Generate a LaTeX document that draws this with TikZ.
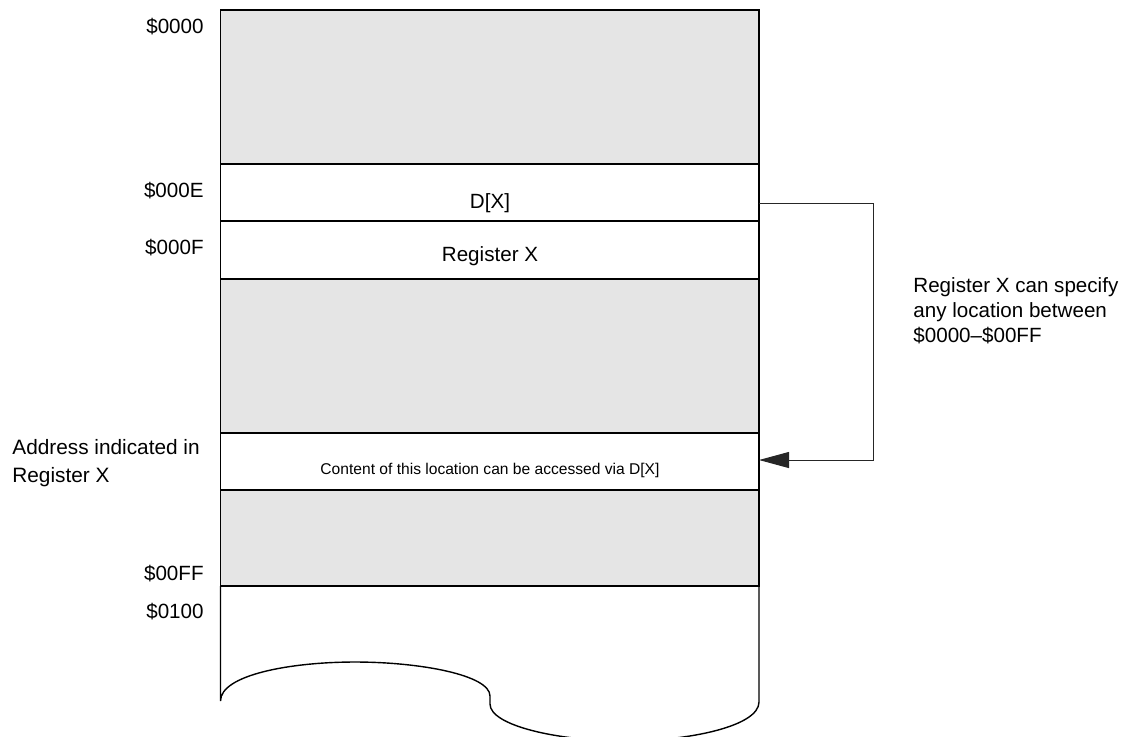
\documentclass[tikz,border=0pt]{standalone}
\usepackage{fontspec}
\setmainfont{Liberation Sans}
\usetikzlibrary{arrows.meta}
\usetikzlibrary{calc}

\tikzset{
  memrow/.style={draw=black,line width=0.7pt},
  usedrow/.style={memrow,fill=gray!20},
  freerow/.style={memrow,fill=white},
  addr/.style={anchor=mid east,inner sep=0pt,font=\fontsize{10.3}{12.5}\selectfont},
  cell/.style={anchor=mid,inner sep=0pt,font=\fontsize{10.3}{12.5}\selectfont},
  note/.style={anchor=north west,align=left,inner sep=0pt},
  link/.style={draw=black!85,line width=0.5pt,-{Triangle[length=15pt,width=8pt]}}
}

\begin{document}
\begin{tikzpicture}[x=0.5pt,y=-0.5pt]
 \useasboundingbox (0,0) rectangle (1123,736);
 \pgfmathsetmacro{\xl}{220.5}
  \pgfmathsetmacro{\xr}{759}
  \pgfmathsetmacro{\xm}{490}

 \draw[usedrow] (\xl,10) rectangle (\xr,164);
 \draw[freerow] (\xl,164) rectangle (\xr,221);
 \draw[freerow] (\xl,221) rectangle (\xr,279);
 \draw[usedrow] (\xl,279) rectangle (\xr,433);
 \draw[freerow] (\xl,433) rectangle (\xr,490);
 \draw[usedrow] (\xl,490) rectangle (\xr,586);
   \draw[memrow] (\xl,586) -- (\xl,701) .. controls (\xl,675) and (290,662) .. (355,662)
     .. controls (420,662) and (490,675) .. (490,696) -- (490,704)
     .. controls (490,726) and (560,741) .. (624,741)
     .. controls (690,741) and (\xr,726) .. (\xr,702) -- (\xr,586);

\node[addr] (aTop) at (204,28) {\$0000};
\node[addr] (aDx) at (204,192) {\$000E};
\node[addr] (aRx) at (204,249) {\$000F};
\node[addr] (aLast) at (204,575) {\$00FF};
\node[addr] (aNext) at (204,613) {\$0100};

\node[cell] (dx) at (\xm,203) {D[X]};
\node[cell] (regx) at (\xm,256) {Register X};
\node[cell,font=\fontsize{7.8}{9}\selectfont] (target) at (\xm,469) {Content of this location can be accessed via D[X]};

\node[note,font=\fontsize{10.4}{14}\selectfont] (where) at (12,439) {Address indicated in\\Register X};
\node[note,font=\fontsize{10.3}{12.5}\selectfont] (range) at (913,277) {Register X can specify\\any location between\\\$0000--\$00FF};

 \coordinate (dxport) at (\xr,203);
 \coordinate (bend) at (873,460);
 \coordinate (cellport) at (\xr,460);
 \draw[link] (dxport) -| (bend) -- (cellport);
\end{tikzpicture}
\end{document}
